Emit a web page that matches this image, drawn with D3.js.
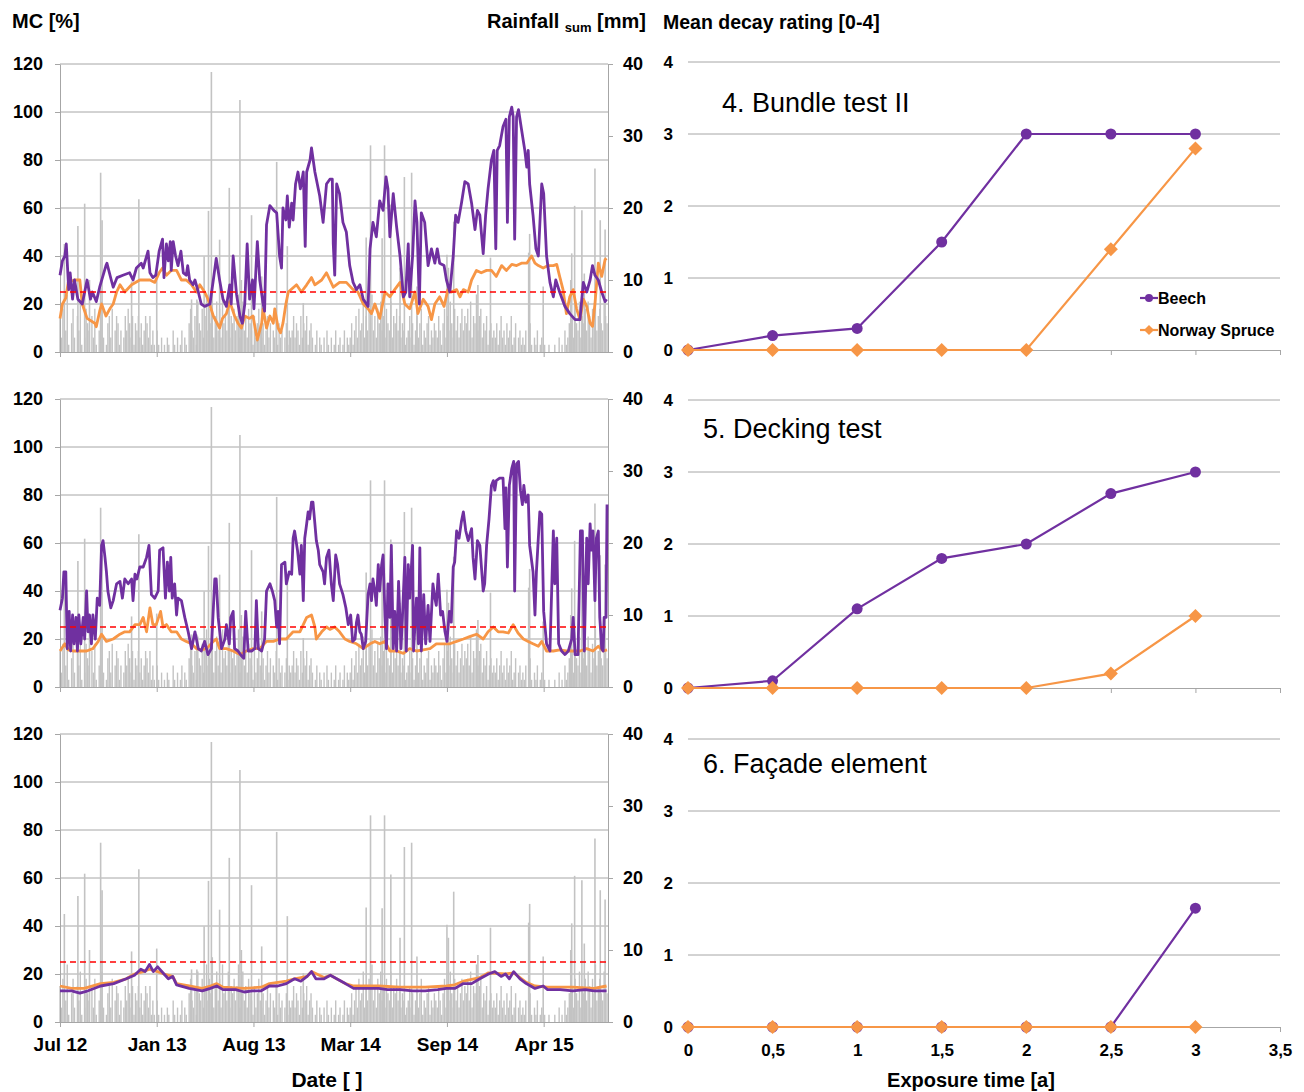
<!DOCTYPE html>
<html><head><meta charset="utf-8">
<script src="https://cdn.jsdelivr.net/npm/d3@7"></script>
<style>body{margin:0;background:#fff} text{font-family:"Liberation Sans",Arial,sans-serif}</style>
</head><body><svg id="c" width="1304" height="1092"></svg>
<script>
// ---------- DATA (time axis in days since 15 Jul 2012) ----------
const dateTickDays = [0, 200, 400, 600, 800, 1000];
const dateTickLabels = ["Jul 12", "Jan 13", "Aug 13", "Mar 14", "Sep 14", "Apr 15"];
const mcTicks = [0, 20, 40, 60, 80, 100, 120];
const rainTicks = [0, 10, 20, 30, 40];
const threshold = 25;

// Panel 1 (Bundle test II) MC [%]
const p1Beech = [[0,32],[5,38],[10,40],[13,45],[18,26],[21,33],[26,22],[30,30],[37,22],[46,20],[56,30],[63,22],[67,25],[75,21],[82,27],[95,36],[97,37],[106,30],[110,27],[118,31],[130,32],[144,33],[151,30],[158,35],[168,37],[172,35],[182,42],[186,33],[192,31],[198,32],[205,42],[212,47],[215,31],[220,45],[224,38],[228,46],[230,34],[234,46],[239,40],[244,36],[250,42],[255,33],[261,32],[264,36],[268,30],[275,28],[279,30],[286,25],[292,20],[299,19],[310,20],[317,30],[323,39],[330,30],[337,22],[344,19],[351,28],[354,20],[358,40],[365,24],[372,15],[377,12],[382,20],[387,45],[392,22],[398,30],[401,18],[408,46],[413,30],[420,20],[423,17],[427,53],[434,61],[442,59],[448,58],[454,40],[458,35],[461,60],[467,55],[470,65],[474,52],[479,62],[482,55],[487,70],[492,75],[497,68],[503,75],[507,44],[510,75],[517,80],[520,85],[527,75],[537,65],[544,54],[551,70],[558,72],[563,72],[565,45],[568,32],[572,70],[578,66],[585,54],[592,50],[599,36],[606,29],[613,26],[620,28],[627,22],[637,19],[641,43],[647,54],[654,48],[661,63],[668,59],[674,73],[678,68],[682,48],[689,66],[696,52],[703,40],[710,23],[715,25],[720,45],[723,23],[729,40],[734,63],[738,54],[743,20],[747,58],[754,54],[761,36],[768,43],[775,37],[780,43],[785,37],[794,36],[799,30],[806,25],[813,40],[818,57],[823,54],[830,62],[837,71],[844,70],[851,62],[858,51],[863,59],[868,57],[875,41],[880,57],[885,68],[892,80],[897,84],[901,43],[904,84],[909,86],[916,94],[922,97],[925,54],[929,98],[934,102],[937,98],[940,47],[944,98],[948,101],[954,93],[961,84],[965,77],[968,84],[971,70],[978,57],[984,43],[989,40],[996,70],[1000,66],[1006,40],[1013,29],[1020,23],[1025,30],[1033,25],[1044,19],[1054,16],[1065,13.5],[1075,13.5],[1082,29],[1089,25],[1096,30],[1101,36],[1106,32],[1113,30],[1120,25],[1127,21],[1130,22]];
const p1Spruce = [[0,14],[5,20],[12,22.5],[17,29],[30,30],[41,30],[46,20],[56,14],[72,12],[75,10.5],[82,17],[86,20],[95,15],[103,18],[110,20],[117,25],[124,28],[134,25],[148,28],[165,30],[186,30],[196,29],[205,33],[212,35],[220,32],[230,34],[241,34],[251,30],[261,30],[272,28],[282,25],[289,28],[299,25],[306,22],[317,15],[330,10],[336,14],[344,16],[351,21],[361,15],[368,12],[375,10],[382,15],[392,14],[399,15],[408,5],[417,12],[420,18],[427,10],[434,15],[441,12],[444,18],[451,10],[456,8],[461,12],[467,20],[472,25],[489,28],[499,25],[510,28],[520,31],[527,28],[541,30],[551,33],[558,30],[565,27],[578,29],[592,29],[606,26],[616,25],[627,20],[637,18],[644,16],[651,20],[661,14],[672,25],[682,23],[692,26],[703,29],[713,20],[723,18],[734,25],[740,16],[751,22],[761,19],[768,13.5],[775,20],[785,23],[794,19],[802,26],[809,25],[820,26],[827,23],[834,26],[844,25],[851,30],[861,34],[871,33],[882,34],[892,34],[902,31.5],[913,36],[923,34],[934,36.5],[944,36],[954,37],[965,37],[975,40],[982,37],[989,36],[999,35],[1009,36],[1020,36],[1027,36.5],[1033,31.5],[1040,26],[1047,16],[1054,23],[1061,26],[1068,18],[1075,13.5],[1082,22],[1089,19],[1096,12],[1101,10.7],[1106,20],[1113,37],[1120,31.5],[1127,38.5],[1130,39]];

// Panel 2 (Decking test) MC [%]
const p2Beech = [[0,32],[5,37],[8,48],[12,48],[15,16],[19,31.5],[22,15],[26,30],[29,18],[33,29],[36,15],[39,30],[43,18],[48,29],[51,20],[55,40],[58,23],[61,30],[65,18],[68,30],[73,20],[77,37],[82,34],[86,59],[89,61],[93,54],[96,48],[99,40],[105,33],[110,36],[117,43],[124,44],[129,37],[134,45],[141,43],[148,45],[151,36],[155,47],[159,45],[165,50],[172,50],[179,54],[184,59],[189,38.5],[196,37],[203,40],[206,57],[213,58],[218,37],[222,52],[226,40],[229,54],[232,37],[237,43],[241,30],[244,37],[251,36],[258,29],[265,23],[272,16],[279,23],[286,16],[292,15],[299,19],[306,13.5],[313,16],[320,45],[323,45],[327,29],[334,16],[341,20],[344,26],[350,18],[353,29],[358,31.5],[361,16],[368,15],[375,13],[380,12],[384,31.5],[389,15],[396,15],[403,16],[406,36],[410,16],[417,15],[423,20],[427,40],[434,43],[439,40],[444,36],[448,25],[451,31.5],[454,18],[458,51],[465,52],[468,43],[474,48],[479,47],[482,62],[485,65],[491,57],[496,47],[499,59],[503,36],[506,62],[510,68],[513,73],[516,70],[520,77],[523,77],[527,68],[530,61],[534,57],[537,51],[544,48],[547,43],[551,54],[556,57],[561,43],[565,36],[570,55],[574,51],[578,43],[585,38.5],[591,33],[596,26],[601,30],[605,19],[610,20],[613,27],[616,30],[620,23],[623,22],[627,16],[632,19],[637,38.5],[641,43],[644,36],[647,45],[651,40],[654,34],[658,51],[661,40],[665,51],[668,55],[672,29],[675,16],[678,43],[682,29],[685,59],[689,16],[692,31.5],[696,15],[700,44],[705,16],[708,29],[713,54],[716,15],[720,51],[723,37],[729,59],[731,15],[737,37],[741,18],[744,58],[747,15],[752,38.5],[756,18],[761,34],[765,19],[771,43],[775,37],[778,34],[782,47],[787,30],[791,31.5],[796,23],[800,19],[805,31.5],[809,27],[813,50],[816,52],[820,65],[825,62],[830,69],[834,73],[839,65],[844,61],[851,66],[854,54],[858,45],[863,61],[868,59],[875,40],[878,43],[882,59],[887,70],[892,84],[896,86],[899,82],[902,86],[909,87],[916,87],[920,66],[922,83],[925,50],[929,84],[934,91],[938,94],[940,40],[944,93],[948,94],[952,82],[956,76],[959,84],[963,77],[968,80],[971,59],[978,48],[982,30],[985,48],[992,73],[996,72],[1000,31.5],[1006,18],[1013,15],[1020,65],[1023,43],[1027,62],[1031,18],[1037,15],[1044,13.5],[1051,15],[1058,20],[1061,29],[1065,13.5],[1071,13.5],[1076,65],[1080,65],[1084,15],[1089,62],[1092,43],[1096,68],[1099,57],[1102,65],[1106,36],[1109,62],[1113,65],[1116,29],[1120,16],[1123,15],[1125,29],[1129,29],[1131,76]];
const p2Spruce = [[0,15],[10,18],[17,15.5],[27,15],[41,15],[55,15],[68,16],[79,19],[86,22],[96,19],[110,20],[124,22],[134,23],[144,23],[155,26],[165,26],[172,29],[179,23],[186,33],[192,26],[199,26],[208,31.5],[213,25],[220,26],[230,23],[241,23],[251,20],[261,19],[272,18],[282,16],[292,15.5],[303,16],[317,19],[323,20],[330,16],[344,16],[358,15],[372,13.5],[385,15],[399,16],[413,16],[427,19],[441,19],[454,20],[468,20],[482,23],[496,23],[510,29],[520,30],[527,25],[530,20],[541,23],[551,25],[558,24],[568,25],[578,23],[589,20],[599,19],[613,18],[627,16],[641,18],[651,19],[661,18],[672,19],[682,15],[696,15],[710,14],[723,16],[737,15],[751,15.5],[765,16],[778,18],[792,18],[806,18],[820,19],[834,20],[847,21],[861,22],[875,20],[885,23],[896,25],[906,23],[916,23],[927,22.5],[937,26],[947,22.5],[958,20],[968,19],[978,18],[989,17],[996,19],[1006,15],[1020,15],[1033,15.5],[1047,15],[1061,15],[1075,15],[1089,16],[1102,15],[1113,17],[1123,15],[1131,15.5]];

// Panel 3 (Facade element) MC [%]
const p3Beech = [[0,13],[24,13],[41,12],[58,13],[84,15],[111,16],[137,18],[154,19.5],[167,22],[176,21],[185,24],[193,21],[202,23],[215,20],[224,18],[233,19],[241,15.5],[267,14],[294,13],[311,14],[324,15],[337,13.5],[363,13.5],[381,12.5],[398,13],[416,13],[433,15],[450,15],[468,16],[485,18],[498,17],[511,19],[520,21],[529,18],[546,18],[559,19.5],[572,18],[590,16],[607,14],[633,14],[659,14],[677,13.5],[703,13.5],[729,13],[755,13],[781,13.5],[799,14],[816,14],[834,16],[851,16],[868,18],[886,20],[899,21],[912,19],[921,20],[929,18],[938,21],[951,18],[964,16],[982,14],[999,15],[1008,13.5],[1034,13.5],[1060,13],[1086,13.5],[1104,13],[1130,13]];
const p3Spruce = [[0,15],[24,14],[50,14],[84,16],[111,16.5],[137,18],[154,20],[172,21],[185,22],[202,21],[215,20],[233,19],[241,16],[267,15],[294,14],[311,15],[324,16],[337,14.5],[381,14],[416,14.5],[433,16],[468,17],[485,18],[511,19],[520,21],[546,18.5],[559,19.5],[590,16],[607,15],[659,15],[703,14.5],[755,14.5],[799,15],[816,15.5],[834,17],[868,18.5],[886,20.5],[921,20],[938,20.5],[964,16.5],[982,15],[1008,14.5],[1060,14.5],[1104,14],[1130,15]];

// Daily rainfall [mm]: background values every 3 days + individual large events [day, mm]
const rainStepDays = 3;
const rainBase = [
5,2,6,0,3,8,1,0,4,6,2,0,5,3,7,1,0,2,6,4,
3,0,5,2,6,1,0,3,4,7,2,0,1,4,5,2,6,0,3,5,
4,1,3,0,2,5,3,6,4,2,5,1,4,3,5,2,4,1,3,5,
4,2,5,1,3,1,0,3,1,0,2,0,1,0,2,1,0,0,3,1,
0,2,0,1,3,0,2,1,0,4,6,3,2,5,1,7,4,3,6,2,
5,8,3,6,4,9,2,5,7,3,6,2,8,4,5,3,7,2,5,4,
6,3,5,8,2,4,7,3,5,2,6,4,3,1,5,2,4,6,3,2,
4,1,3,5,2,4,0,3,2,5,1,4,2,3,0,2,4,1,3,2,
3,5,2,4,3,1,5,2,4,3,5,1,3,4,2,0,1,3,0,2,
1,0,2,0,3,1,0,2,0,1,3,0,1,2,0,1,3,0,2,1,
2,4,1,3,5,2,6,3,4,7,2,5,3,6,4,8,3,5,2,6,
4,7,3,5,2,6,4,3,7,2,5,4,6,3,5,2,4,3,1,2,
3,5,2,4,1,3,5,2,4,6,1,3,2,4,5,1,3,2,4,3,
2,5,3,1,4,6,2,5,3,7,4,2,6,3,5,2,4,6,3,5,
4,6,3,7,2,5,4,8,3,5,6,2,4,3,5,1,3,4,2,3,
2,4,1,3,5,2,3,1,4,2,3,5,1,2,4,0,2,3,1,2,
1,3,0,2,4,1,0,2,1,3,0,1,2,0,1,0,0,1,0,0,
0,1,0,0,2,0,1,0,3,1,2,4,3,5,2,6,4,3,7,2,
5,4,6,3,7,5,2,6,4,8,3,5,6,4,3,7,5,4];
const rainEvents = [[9,15],[37,17.5],[51,20.6],[61,10],[84,24.9],[87,18.3],[148,9.8],[163,21.2],[200,10.2],[272,7.3],[283,7.3],[298,13.3],[307,19.6],[313,38.9],[330,15.6],[350,22.8],[372,35],[375,10],[396,19],[417,10.5],[448,26.4],[470,14.7],[503,6.8],[633,15.9],[642,28.7],[666,15.8],[671,28.7],[684,20.5],[703,11.7],[712,24.3],[727,24.9],[738,9.1],[800,13.5],[803,11.7],[814,18.1],[864,9.3],[890,13.1],[969,13.8],[971,16.4],[999,9.1],[1056,10],[1058,13.7],[1064,20.3],[1079,19.7],[1084,10.9],[1106,25.5],[1117,18.3],[1127,17]];

// Right panels: mean decay rating [0-4]
const exposure = [0, 0.5, 1, 1.5, 2, 2.5, 3];
const expTicks = [0, 0.5, 1, 1.5, 2, 2.5, 3, 3.5];
const expTickLabels = ["0", "0,5", "1", "1,5", "2", "2,5", "3", "3,5"];
const ratingTicks = [0, 1, 2, 3, 4];
const bundleBeech = [0, 0.2, 0.3, 1.5, 3, 3, 3];
const bundleSpruce = [0, 0, 0, 0, 0, 1.4, 2.8];
const deckBeech = [0, 0.1, 1.1, 1.8, 2, 2.7, 3];
const deckSpruce = [0, 0, 0, 0, 0, 0.2, 1];
const facadeBeech = [0, 0, 0, 0, 0, 0, 1.65];
const facadeSpruce = [0, 0, 0, 0, 0, 0, 0];
const panelTitles = ["4. Bundle test II", "5. Decking test", "6. Façade element"];
const seriesNames = ["Beech", "Norway Spruce"];

// ---------- DRAWING ----------
const PURPLE = "#7030a0", ORANGE = "#f79646", GRID = "#a6a6a6", RAIN = "#c3c3c3";
const svg = d3.select("#c");
const x = d3.scaleLinear().domain([0, 1133]).range([60, 608]);

function styleAxis(g, fs) {
  g.selectAll("path.domain").attr("stroke", GRID);
  g.selectAll(".tick line").attr("stroke", GRID);
  g.selectAll("text").attr("font-size", fs).attr("font-weight", "bold").attr("fill", "#000")
    .attr("font-family", "Liberation Sans, Arial, sans-serif");
}

const leftPanels = [
  {off: 0, beech: p1Beech, spruce: p1Spruce},
  {off: 335, beech: p2Beech, spruce: p2Spruce},
  {off: 670, beech: p3Beech, spruce: p3Spruce}
];

leftPanels.forEach((p, i) => {
  const y = d3.scaleLinear().domain([0, 120]).range([352 + p.off, 64 + p.off]);
  const yr = d3.scaleLinear().domain([0, 40]).range([352 + p.off, 64 + p.off]);
  const g = svg.append("g");
  g.selectAll("line.grid").data(mcTicks.slice(1)).join("line")
    .attr("x1", 60).attr("x2", 608).attr("y1", d => y(d)).attr("y2", d => y(d))
    .attr("stroke", GRID).attr("stroke-width", 1);
  // rainfall bars
  const base = rainBase.map((v, k) => [k * rainStepDays, v]).filter(d => d[1] > 0);
  g.selectAll("line.rb").data(base).join("line")
    .attr("x1", d => x(d[0])).attr("x2", d => x(d[0]))
    .attr("y1", yr(0)).attr("y2", d => yr(d[1]))
    .attr("stroke", RAIN).attr("stroke-width", 1.4);
  g.selectAll("line.re").data(rainEvents).join("line")
    .attr("x1", d => x(d[0])).attr("x2", d => x(d[0]))
    .attr("y1", yr(0)).attr("y2", d => yr(d[1]))
    .attr("stroke", RAIN).attr("stroke-width", 1.6);
  // axes
  const gl = g.append("g").attr("transform", "translate(60,0)")
    .call(d3.axisLeft(y).tickValues(mcTicks).tickSize(5).tickSizeOuter(0).tickPadding(12));
  styleAxis(gl, 18);
  const gr = g.append("g").attr("transform", "translate(608,0)")
    .call(d3.axisRight(yr).tickValues(rainTicks).tickSize(5).tickSizeOuter(0).tickPadding(10));
  styleAxis(gr, 18);
  const gb = g.append("g").attr("transform", `translate(0,${352 + p.off})`)
    .call(d3.axisBottom(x).tickValues(dateTickDays).tickSize(5).tickSizeOuter(0).tickPadding(11)
      .tickFormat((d, k) => i === 2 ? dateTickLabels[k] : ""));
  styleAxis(gb, 19);
  // MC lines
  const line = d3.line().x(d => x(d[0])).y(d => y(d[1]));
  g.append("path").datum(p.spruce).attr("d", line).attr("fill", "none")
    .attr("stroke", ORANGE).attr("stroke-width", 2.8).attr("stroke-linejoin", "round");
  g.append("path").datum(p.beech).attr("d", line).attr("fill", "none")
    .attr("stroke", PURPLE).attr("stroke-width", 2.8).attr("stroke-linejoin", "round");
  // threshold
  g.append("line").attr("x1", 60).attr("x2", 608).attr("y1", y(threshold)).attr("y2", y(threshold))
    .attr("stroke", "#ff0000").attr("stroke-width", 1.6).attr("stroke-dasharray", "6,4");
});

// right panels
const xe = d3.scaleLinear().domain([0, 3.5]).range([688, 1280]);
const rightPanels = [
  {zero: 350, beech: bundleBeech, spruce: bundleSpruce, tx: 722, ty: 112},
  {zero: 688, beech: deckBeech, spruce: deckSpruce, tx: 703, ty: 438},
  {zero: 1027, beech: facadeBeech, spruce: facadeSpruce, tx: 703, ty: 773}
];
const diamond = s => `M0,${-s}L${s},0L0,${s}L${-s},0Z`;
rightPanels.forEach((p, i) => {
  const y = d3.scaleLinear().domain([0, 4]).range([p.zero, p.zero - 288]);
  const g = svg.append("g");
  g.selectAll("line.grid").data(ratingTicks.slice(1)).join("line")
    .attr("x1", 688).attr("x2", 1280).attr("y1", d => y(d)).attr("y2", d => y(d))
    .attr("stroke", GRID);
  const gl = g.append("g").attr("transform", "translate(688,0)")
    .call(d3.axisLeft(y).tickValues(ratingTicks).tickFormat(d3.format("d")).tickSize(0).tickPadding(15));
  gl.select("path.domain").remove();
  styleAxis(gl, 17);
  const gb = g.append("g").attr("transform", `translate(0,${p.zero})`)
    .call(d3.axisBottom(xe).tickValues(expTicks).tickSize(5).tickSizeOuter(0).tickPadding(12)
      .tickFormat((d, k) => i === 2 ? expTickLabels[k] : ""));
  styleAxis(gb, 17);
  g.append("text").attr("x", p.tx).attr("y", p.ty).attr("font-size", 27).attr("fill", "#000")
    .text(panelTitles[i]);
  const line = d3.line().x(d => xe(d[0])).y(d => y(d[1]));
  const bData = exposure.map((e, k) => [e, p.beech[k]]);
  const sData = exposure.map((e, k) => [e, p.spruce[k]]);
  g.append("path").datum(bData).attr("d", line).attr("fill", "none").attr("stroke", PURPLE).attr("stroke-width", 2.2);
  g.selectAll("circle.b").data(bData).join("circle").attr("cx", d => xe(d[0])).attr("cy", d => y(d[1]))
    .attr("r", 5.5).attr("fill", PURPLE);
  g.append("path").datum(sData).attr("d", line).attr("fill", "none").attr("stroke", ORANGE).attr("stroke-width", 2.2);
  g.selectAll("path.s").data(sData).join("path").attr("transform", d => `translate(${xe(d[0])},${y(d[1])})`)
    .attr("d", diamond(7)).attr("fill", ORANGE);
});

// legend (panel 4)
const lg = svg.append("g").attr("font-size", 16).attr("font-weight", "bold");
[[298, PURPLE, "c"], [330, ORANGE, "d"]].forEach((r, k) => {
  lg.append("line").attr("x1", 1140).attr("x2", 1158).attr("y1", r[0]).attr("y2", r[0]).attr("stroke", r[1]).attr("stroke-width", 2.2);
  if (r[2] === "c") lg.append("circle").attr("cx", 1149).attr("cy", r[0]).attr("r", 4).attr("fill", r[1]);
  else lg.append("path").attr("transform", `translate(1149,${r[0]})`).attr("d", diamond(5)).attr("fill", r[1]);
  lg.append("text").attr("x", 1158).attr("y", r[0] + 6).attr("fill", "#000").text(seriesNames[k]);
});

// headers and axis titles
const hd = svg.append("g").attr("font-weight", "bold").attr("fill", "#000");
hd.append("text").attr("x", 12).attr("y", 28).attr("font-size", 20).text("MC [%]");
const rt = hd.append("text").attr("x", 646).attr("y", 28).attr("font-size", 20).attr("text-anchor", "end");
rt.append("tspan").text("Rainfall ");
rt.append("tspan").attr("font-size", 13).attr("dy", 4).text("sum");
rt.append("tspan").attr("dy", -4).text(" [mm]");
hd.append("text").attr("x", 663).attr("y", 29).attr("font-size", 19.5).text("Mean decay rating [0-4]");
hd.append("text").attr("x", 327).attr("y", 1087).attr("font-size", 21).attr("text-anchor", "middle").text("Date [ ]");
hd.append("text").attr("x", 971).attr("y", 1087).attr("font-size", 20).attr("text-anchor", "middle").text("Exposure time [a]");
</script></body></html>
